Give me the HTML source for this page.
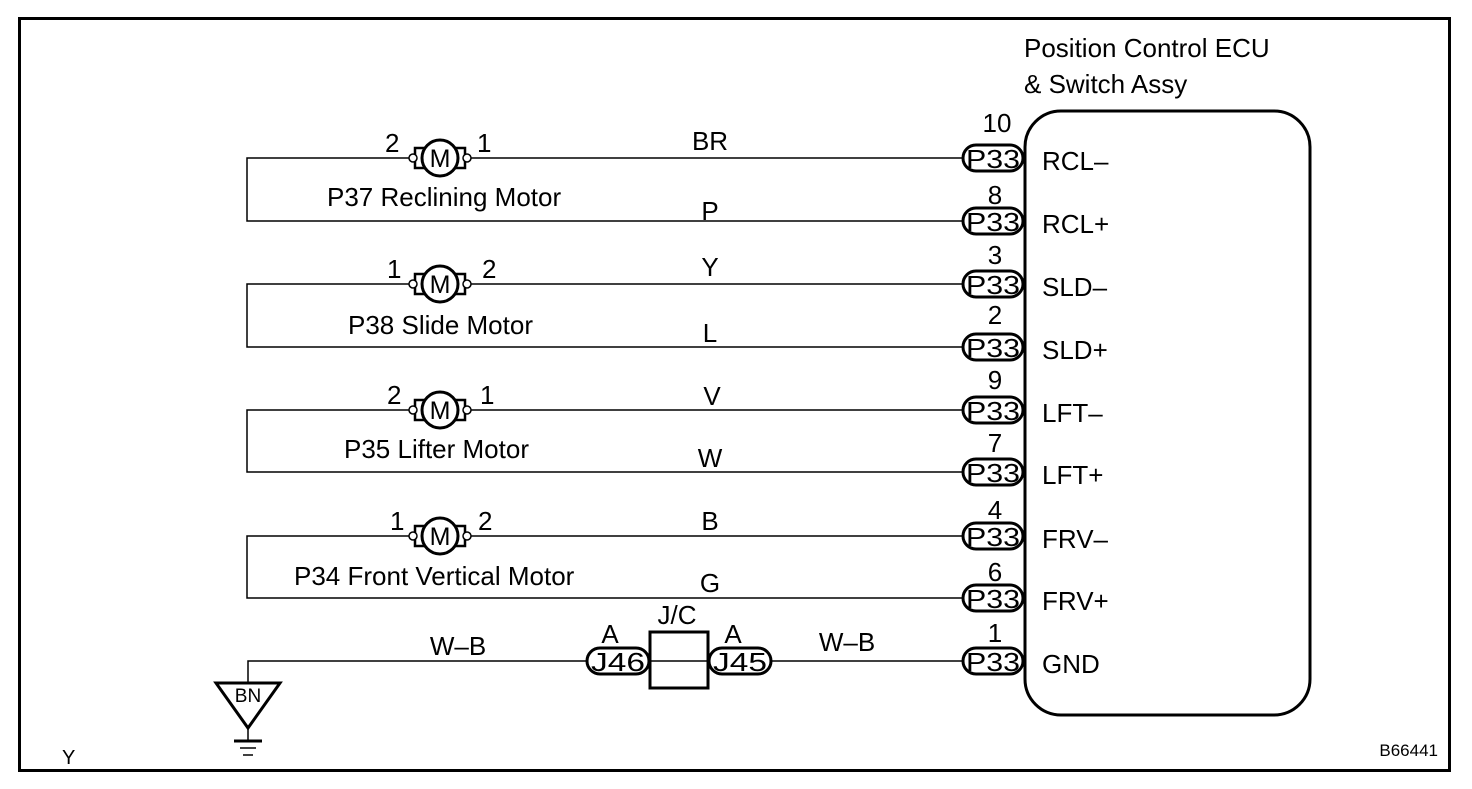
<!DOCTYPE html>
<html><head><meta charset="utf-8"><style>
body{margin:0;background:#fff;}
svg text{font-family:"Liberation Sans",Arial,sans-serif;fill:#000;}
</style></head><body>
<svg width="1472" height="784" viewBox="0 0 1472 784" xmlns="http://www.w3.org/2000/svg">
<defs>
<g id="motor">
<rect x="-25" y="-10" width="50" height="20" fill="#fff" stroke="#000" stroke-width="2.5"/>
<circle cx="0" cy="0" r="18" fill="#fff" stroke="#000" stroke-width="3"/>
<text x="0" y="9" font-size="25" text-anchor="middle">M</text>
<circle cx="-27" cy="0" r="4" fill="#fff" stroke="#000" stroke-width="1.5"/>
<circle cx="27" cy="0" r="4" fill="#fff" stroke="#000" stroke-width="1.5"/>
</g>
<g id="p33">
<rect x="0" y="-13" width="60" height="26" rx="13" fill="#fff" stroke="#000" stroke-width="3"/>
<text x="30" y="10" font-size="26" text-anchor="middle" textLength="54" lengthAdjust="spacingAndGlyphs">P33</text>
</g>
</defs>
<rect x="19.5" y="18.5" width="1430" height="752" fill="none" stroke="#000" stroke-width="3"/>
<rect x="1025" y="111" width="285" height="604" rx="36" fill="none" stroke="#000" stroke-width="3"/>
<text x="1024" y="57" font-size="26">Position Control ECU</text>
<text x="1024" y="93" font-size="26">&amp; Switch Assy</text>
<g stroke="#000" stroke-width="1.5" fill="none">
<path d="M963 158H247V221H963"/>
<path d="M963 284H247V347H963"/>
<path d="M963 410H247V472H963"/>
<path d="M963 536H247V598H963"/>
<path d="M248 700V661H963"/>
</g>
<use href="#motor" x="440" y="158"/>
<use href="#motor" x="440" y="284"/>
<use href="#motor" x="440" y="410"/>
<use href="#motor" x="440" y="536"/>
<g font-size="26">
<text x="385" y="152">2</text><text x="477" y="152">1</text>
<text x="387" y="278">1</text><text x="482" y="278">2</text>
<text x="387" y="404">2</text><text x="480" y="404">1</text>
<text x="390" y="530">1</text><text x="478" y="530">2</text>
<text x="327" y="206">P37 Reclining Motor</text>
<text x="348" y="334">P38 Slide Motor</text>
<text x="344" y="458">P35 Lifter Motor</text>
<text x="294" y="585">P34 Front Vertical Motor</text>
<text x="710" y="150" text-anchor="middle">BR</text>
<text x="710" y="220" text-anchor="middle">P</text>
<text x="710" y="276" text-anchor="middle">Y</text>
<text x="710" y="342" text-anchor="middle">L</text>
<text x="712" y="405" text-anchor="middle">V</text>
<text x="710" y="467" text-anchor="middle">W</text>
<text x="710" y="530" text-anchor="middle">B</text>
<text x="710" y="592" text-anchor="middle">G</text>
<text x="458" y="655" text-anchor="middle">W–B</text>
<text x="847" y="651" text-anchor="middle">W–B</text>
</g>
<g font-size="26">
<use href="#p33" x="963" y="158"/><text x="997" y="132" text-anchor="middle">10</text><text x="1042" y="170">RCL–</text>
<use href="#p33" x="963" y="221"/><text x="995" y="204" text-anchor="middle">8</text><text x="1042" y="233">RCL+</text>
<use href="#p33" x="963" y="284"/><text x="995" y="264" text-anchor="middle">3</text><text x="1042" y="296">SLD–</text>
<use href="#p33" x="963" y="347"/><text x="995" y="324" text-anchor="middle">2</text><text x="1042" y="359">SLD+</text>
<use href="#p33" x="963" y="410"/><text x="995" y="389" text-anchor="middle">9</text><text x="1042" y="422">LFT–</text>
<use href="#p33" x="963" y="472"/><text x="995" y="452" text-anchor="middle">7</text><text x="1042" y="484">LFT+</text>
<use href="#p33" x="963" y="536"/><text x="995" y="519" text-anchor="middle">4</text><text x="1042" y="548">FRV–</text>
<use href="#p33" x="963" y="598"/><text x="995" y="581" text-anchor="middle">6</text><text x="1042" y="610">FRV+</text>
<use href="#p33" x="963" y="661"/><text x="995" y="642" text-anchor="middle">1</text><text x="1042" y="673">GND</text>
</g>
<rect x="650" y="632" width="58" height="56" fill="#fff" stroke="#000" stroke-width="3"/>
<line x1="650" y1="661" x2="708" y2="661" stroke="#000" stroke-width="1.5"/>
<rect x="587" y="648" width="62" height="26" rx="13" fill="#fff" stroke="#000" stroke-width="3"/>
<text x="618" y="671" font-size="26" text-anchor="middle" textLength="54" lengthAdjust="spacingAndGlyphs">J46</text>
<rect x="709" y="648" width="62" height="26" rx="13" fill="#fff" stroke="#000" stroke-width="3"/>
<text x="740" y="671" font-size="26" text-anchor="middle" textLength="54" lengthAdjust="spacingAndGlyphs">J45</text>
<text x="610" y="643" font-size="26" text-anchor="middle">A</text>
<text x="733" y="643" font-size="26" text-anchor="middle">A</text>
<text x="677" y="624" font-size="26" text-anchor="middle">J/C</text>
<polygon points="216,683 280,683 248,728" fill="#fff" stroke="#000" stroke-width="3"/>
<text x="248" y="702" font-size="19" text-anchor="middle">BN</text>
<line x1="248" y1="728" x2="248" y2="740" stroke="#000" stroke-width="1.5"/>
<line x1="234" y1="741" x2="262" y2="741" stroke="#000" stroke-width="3"/>
<line x1="240" y1="748" x2="256" y2="748" stroke="#000" stroke-width="1.5"/>
<line x1="243" y1="755" x2="253" y2="755" stroke="#000" stroke-width="1.5"/>
<text x="62" y="764" font-size="20">Y</text>
<text x="1438" y="756" font-size="17" text-anchor="end">B66441</text>
</svg>
</body></html>
